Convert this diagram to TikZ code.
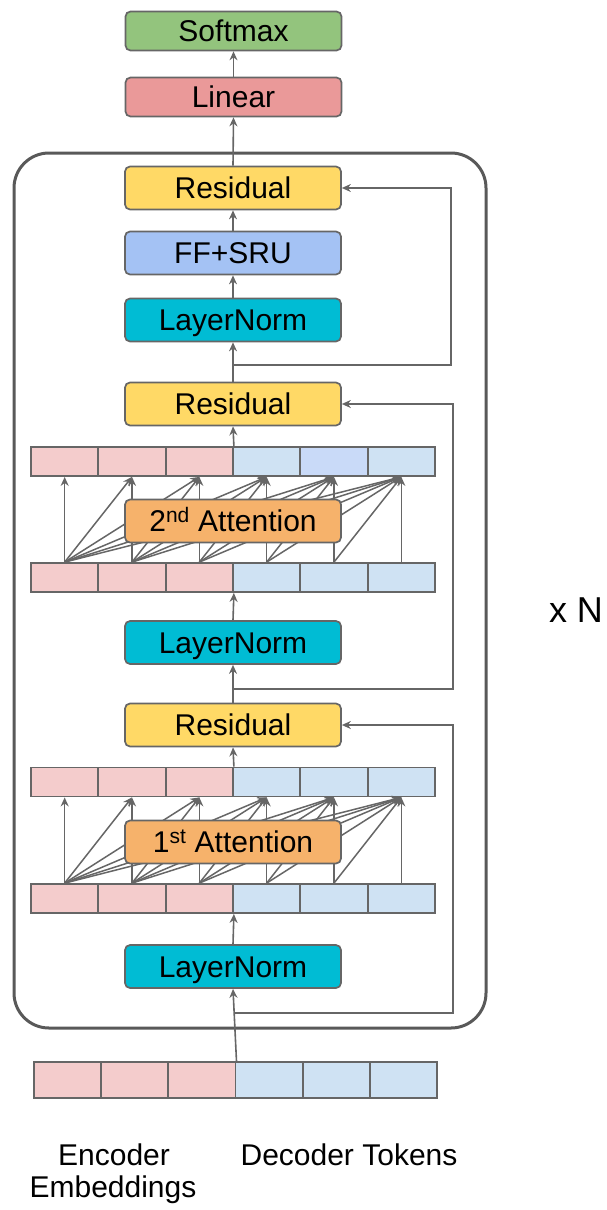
\documentclass[tikz,border=0pt]{standalone}
\usepackage{fontspec}
\setmainfont{Liberation Sans}
\usetikzlibrary{arrows.meta}
\definecolor{bord}{HTML}{666666}
\definecolor{frm}{HTML}{595959}
\definecolor{cgreen}{HTML}{93C47D}
\definecolor{cred}{HTML}{EA9999}
\definecolor{cyel}{HTML}{FFD966}
\definecolor{cblue}{HTML}{A4C2F4}
\definecolor{ccyan}{HTML}{00BCD4}
\definecolor{corange}{HTML}{F6B26B}
\definecolor{pk}{HTML}{F4CCCC}
\definecolor{bl}{HTML}{CFE2F3}
\definecolor{blb}{HTML}{C9DAF8}
\begin{document}
\begin{tikzpicture}[x=1pt,y=-1pt,
  box/.style={draw=bord, line width=1.7pt, rounded corners=5pt, minimum width=216pt,
    minimum height=43pt, inner sep=0pt, text height=21.5pt, text depth=0pt,
    font=\fontsize{30}{36}\selectfont},
  cell/.style={draw=bord, line width=1.8pt, minimum width=67.33pt, minimum height=29pt, inner sep=0pt},
  incell/.style={draw=bord, line width=1.8pt, minimum width=67.33pt, minimum height=36pt, inner sep=0pt},
  arr/.style={draw=bord, line width=1.6pt, -{Stealth[length=9pt,width=8pt]}},
  att/.style={draw=bord, line width=1.5pt, -{Stealth[length=9pt,width=8pt]}},
  frame/.style={draw=frm, line width=3pt, rounded corners=35pt, minimum width=472pt, minimum height=875pt, inner sep=0pt},
  lbl/.style={font=\fontsize{30}{36}\selectfont, anchor=base, inner sep=0pt},
]
\useasboundingbox (0,0) rectangle (607,1210);

% outer frame
\node[frame] (frame) at (250,590.5) {};

% boxes
\node[box, fill=cgreen, minimum height=39pt] (softmax) at (233.5,31) {Softmax};
\node[box, fill=cred, minimum height=39pt] (linear) at (233.5,97) {Linear};
\node[box, fill=cyel] (res3) at (233,188) {Residual};
\node[box, fill=cblue] (ff) at (233,253) {FF+SRU};
\node[box, fill=ccyan] (ln3) at (233,320) {LayerNorm};
\node[box, fill=cyel] (res2) at (233,404) {Residual};
\node[box, fill=ccyan] (ln2) at (233,642.5) {LayerNorm};
\node[box, fill=cyel] (res1) at (233,725) {Residual};
\node[box, fill=ccyan] (ln1) at (233,966.5) {LayerNorm};

% token rows
\foreach \i/\c in {1/pk,2/pk,3/pk,4/bl,5/blb,6/bl}
  \node[cell, fill=\c] (a\i) at ({31+67.33*(\i-0.5)},461.5) {};
\foreach \i/\c in {1/pk,2/pk,3/pk,4/bl,5/bl,6/bl}{
  \node[cell, fill=\c] (b\i) at ({31+67.33*(\i-0.5)},577.5) {};
  \node[cell, fill=\c] (c\i) at ({31+67.33*(\i-0.5)},782) {};
  \node[cell, fill=\c] (d\i) at ({31+67.33*(\i-0.5)},898.5) {};
  \node[incell, fill=\c] (in\i) at ({34+67.17*(\i-0.5)},1080) {};
}

% attention arrows
\foreach \i in {1,...,6}{
  \foreach \j in {\i,...,6}{
    \draw[att] (b\i.north) -- (a\j.south);
    \draw[att] (d\i.north) -- (c\j.south);
  }
}

% attention boxes (over the arrows)
\node[box, fill=corange] (attn2) at (233,521) {2\textsuperscript{nd} Attention};
\node[box, fill=corange] (attn1) at (233,842) {1\textsuperscript{st} Attention};

% main flow
\draw[arr] (linear.north) -- (softmax.south);
\draw[arr] (res3.north) -- (linear.south);
\draw[arr] (ff.north) -- (res3.south);
\draw[arr] (ln3.north) -- (ff.south);
\draw[arr] (res2.north) -- (ln3.south);
\draw[arr] (a3.north east) -- (res2.south);
\draw[arr] (ln2.north) -- (b3.south east);
\draw[arr] (res1.north) -- (ln2.south);
\draw[arr] (c3.north east) -- (res1.south);
\draw[arr] (ln1.north) -- (d3.south east);
\draw[arr] (in3.north east) -- (ln1.south);

% residual connections
\coordinate (s3) at (233,365);
\draw[arr] (s3) -| ([xshift=109pt]res3.east) -- (res3.east);
\coordinate (s2) at (233,689);
\draw[arr] (s2) -| ([xshift=111pt]res2.east) -- (res2.east);
\coordinate (s1) at (234.6,1013);
\draw[arr] (s1) -| ([xshift=111pt]res1.east) -- (res1.east);

% labels
\node[lbl] (enc1) at (114,1165) {Encoder};
\node[lbl] (enc2) at (113,1197) {Embeddings};
\node[lbl] (dec) at (349,1165) {Decoder Tokens};
\node[lbl, font=\fontsize{36}{40}\selectfont] (xn) at (576,622) {x N};
\end{tikzpicture}
\end{document}
